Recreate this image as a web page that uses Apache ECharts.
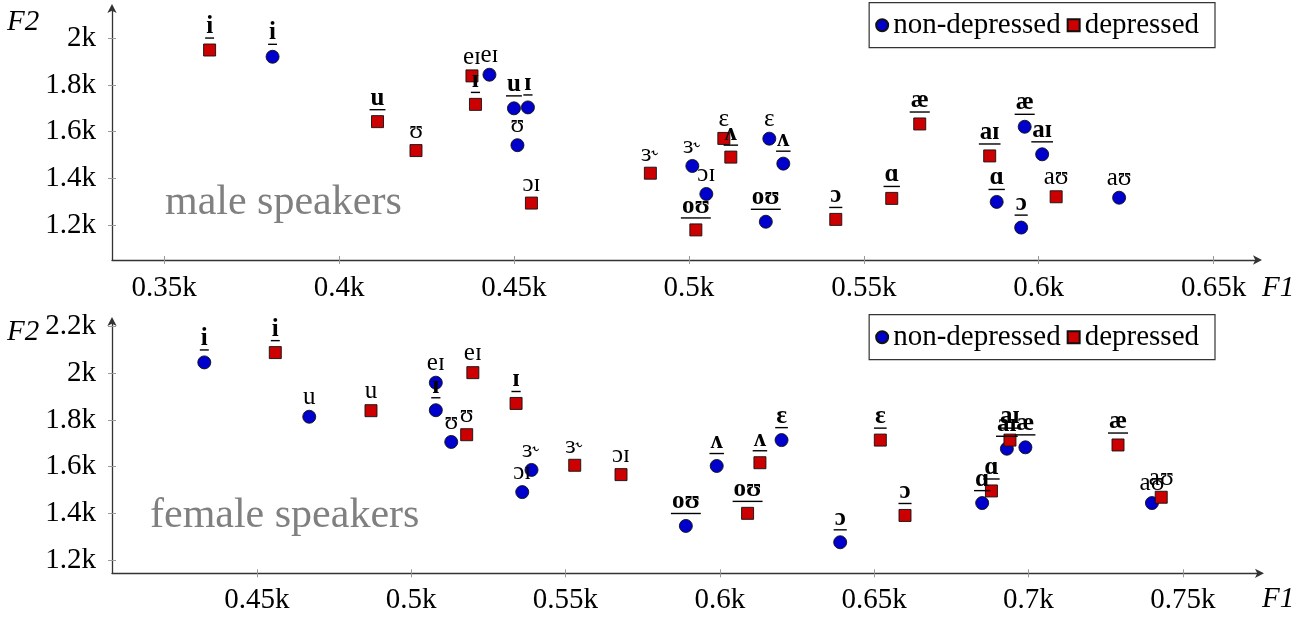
<!DOCTYPE html>
<html>
<head>
<meta charset="utf-8">
<script src="https://cdn.jsdelivr.net/npm/echarts@6/dist/echarts.min.js"></script>
<style>
html,body{margin:0;padding:0;background:#fff;}
#chart{width:1309px;height:617px;}
</style>
</head>
<body>
<div id="chart"></div>
<script>
// ---------- data ----------
const vowels = ['i','eɪ','ɪ','u','ʊ','ɔɪ','ɜ˞','ɛ','ʌ','oʊ','ɔ','ɑ','æ','aɪ','aʊ'];

// male speakers
const maleNonDepF1 = [381, 443, 454, 450, 451, 505, 501, 523, 527, 522, 595, 588, 596, 601, 623];
const maleNonDepF2 = [1921, 1844, 1704, 1700, 1542, 1333, 1453, 1570, 1463, 1214, 1189, 1299, 1621, 1503, 1317];
const maleDepF1 = [363, 438, 439, 411, 422, 455, 489, 510, 512, 502, 542, 558, 566, 586, 605];
const maleDepF2 = [1950, 1839, 1717, 1643, 1519, 1294, 1422, 1571, 1491, 1179, 1224, 1314, 1633, 1496, 1321];
const maleMarked = ['i','ɪ','u','ʌ','oʊ','ɔ','ɑ','æ','aɪ'];

// female speakers
const femaleNonDepF1 = [433, 508, 508, 467, 513, 536, 539, 620, 599, 589, 639, 685, 699, 693, 740];
const femaleNonDepF2 = [2047, 1960, 1842, 1814, 1706, 1491, 1586, 1714, 1603, 1346, 1276, 1444, 1683, 1677, 1444];
const femaleDepF1 = [456, 520, 534, 487, 518, 568, 553, 652, 613, 609, 660, 688, 729, 694, 743];
const femaleDepF2 = [2089, 2003, 1871, 1840, 1737, 1566, 1606, 1714, 1617, 1400, 1391, 1496, 1693, 1714, 1469];
const femaleMarked = ['i','ɪ','oʊ','ʌ','ɛ','ɔ','ɑ','aɪ','æ'];

// ticks
const maleXTicks = [350, 400, 450, 500, 550, 600, 650];
const maleYTicks = [1200, 1400, 1600, 1800, 2000];
const femaleXTicks = [450, 500, 550, 600, 650, 700, 750];
const femaleYTicks = [1200, 1400, 1600, 1800, 2000, 2200];

const seriesNames = ['non-depressed', 'depressed'];
const panelTitles = ['male speakers', 'female speakers'];

// ---------- styling ----------
const FONT = 'Liberation Serif';
const LABEL_SIZE = 25;
const BLUE = '#0000cc';
const RED = '#cc0000';

const ctx = document.createElement('canvas').getContext('2d');
function measure(t, bold) {
  ctx.font = (bold ? 'bold ' : '') + LABEL_SIZE + 'px "' + FONT + '"';
  return ctx.measureText(t).width;
}

function kfmt(v) { return (v / 1000) + 'k'; }

function buildData(f1, f2, marked) {
  return vowels.map((v, i) => {
    const m = marked.indexOf(v) >= 0;
    const item = { name: v, value: [f1[i], f2[i]] };
    if (m) {
      item.label = {
        formatter: '{b|' + v + '}\n{u| }',
        distance: 4,
        rich: {
          b: { fontFamily: FONT, fontSize: LABEL_SIZE, fontWeight: 'bold', color: '#000', lineHeight: 20 },
          u: { width: measure(v, true) + 2, height: 1.4, lineHeight: 3, fontSize: 1, backgroundColor: '#000' }
        }
      };
    } else {
      item.label = {
        formatter: '{n|' + v + '}',
        distance: 0,
        rich: {
          n: { fontFamily: FONT, fontSize: LABEL_SIZE, color: '#000' }
        }
      };
    }
    return item;
  });
}

function scatter(name, gi, f1, f2, marked, symbol, size, color) {
  return {
    type: 'scatter',
    name: name,
    xAxisIndex: gi * 2,
    yAxisIndex: gi * 2,
    symbol: symbol,
    symbolSize: size,
    itemStyle: { color: color, borderColor: '#111', borderWidth: 0.9, opacity: 1 },
    label: { show: true, position: 'top', color: '#000', fontFamily: FONT },
    labelLayout: { hideOverlap: false },
    emphasis: { disabled: true },
    data: buildData(f1, f2, marked)
  };
}

const axisLineStyle = { color: '#333', width: 1.3 };
const tickStyle = { color: '#999', width: 1 };

function xAxes(gi, min, max, ticks, margin) {
  return [
    {
      type: 'value', gridIndex: gi, min: min, max: max, position: 'bottom',
      splitLine: { show: false },
      axisLine: { show: true, onZero: false, lineStyle: axisLineStyle, symbol: ['none', 'arrow'], symbolSize: [7, 9], symbolOffset: [0, 4] },
      axisTick: { show: true, inside: false, length: 4, lineStyle: tickStyle, customValues: ticks },
      axisLabel: { show: true, margin: margin, fontFamily: FONT, fontSize: 29, color: '#000', customValues: ticks, formatter: kfmt }
    },
    {
      type: 'value', gridIndex: gi, min: min, max: max, position: 'bottom',
      splitLine: { show: false },
      axisLine: { show: false },
      axisTick: { show: true, inside: true, length: 4, lineStyle: tickStyle, customValues: ticks },
      axisLabel: { show: false }
    }
  ];
}
function yAxes(gi, min, max, ticks) {
  return [
    {
      type: 'value', gridIndex: gi, min: min, max: max, position: 'left',
      splitLine: { show: false },
      axisLine: { show: true, onZero: false, lineStyle: axisLineStyle, symbol: ['none', 'arrow'], symbolSize: [7, 9], symbolOffset: [0, 4] },
      axisTick: { show: true, inside: false, length: 4, lineStyle: tickStyle, customValues: ticks },
      axisLabel: { show: true, margin: 16, fontFamily: FONT, fontSize: 29, color: '#000', customValues: ticks, formatter: kfmt }
    },
    {
      type: 'value', gridIndex: gi, min: min, max: max, position: 'left',
      splitLine: { show: false },
      axisLine: { show: false },
      axisTick: { show: true, inside: true, length: 4, lineStyle: tickStyle, customValues: ticks },
      axisLabel: { show: false }
    }
  ];
}

function legend(top) {
  return {
    data: [
      { name: seriesNames[0], icon: 'circle' },
      { name: seriesNames[1], icon: 'rect' }
    ],
    right: 94, top: top,
    orient: 'horizontal',
    selectedMode: false,
    borderColor: '#333', borderWidth: 1.2, borderRadius: 0,
    padding: [8, 16, 8, 6],
    itemWidth: 12, itemHeight: 12, itemGap: 6,
    textStyle: { fontFamily: FONT, fontSize: 29, color: '#000', padding: [0, 0, 0, 0] }
  };
}

function text(str, x, y, size, color, italic) {
  return {
    type: 'text', x: x, y: y, silent: true, z: 100,
    style: { text: str, fontFamily: FONT, fontSize: size, fill: color, fontStyle: italic ? 'italic' : 'normal', verticalAlign: 'middle', align: 'left' }
  };
}

const option = {
  animation: false,
  backgroundColor: '#fff',
  textStyle: { fontFamily: FONT },
  grid: [
    { left: 112, top: 8, width: 1146, height: 252 },
    { left: 112, top: 321, width: 1148, height: 252.3 }
  ],
  xAxis: [].concat(xAxes(0, 335.1, 662.7, maleXTicks, 14), xAxes(1, 403.1, 775.0, femaleXTicks, 13)),
  yAxis: [].concat(yAxes(0, 1050, 2130, maleYTicks), yAxes(1, 1143, 2224.4, femaleYTicks)),
  legend: [legend(2.7), legend(314.7)],
  series: [
    scatter(seriesNames[0], 0, maleNonDepF1, maleNonDepF2, maleMarked, 'circle', 13, BLUE),
    scatter(seriesNames[1], 0, maleDepF1, maleDepF2, maleMarked, 'rect', 12, RED),
    scatter(seriesNames[0], 1, femaleNonDepF1, femaleNonDepF2, femaleMarked, 'circle', 13, BLUE),
    scatter(seriesNames[1], 1, femaleDepF1, femaleDepF2, femaleMarked, 'rect', 12, RED)
  ],
  graphic: [
    text(panelTitles[0], 165, 203, 42, '#808080', false),
    text(panelTitles[1], 150, 516, 42, '#808080', false),
    text('F2', 7, 22.5, 29, '#000', true),
    text('F2', 7, 332, 29, '#000', true),
    text('F1', 1262, 288, 29, '#000', true),
    text('F1', 1262, 599, 29, '#000', true)
  ]
};

const chart = echarts.init(document.getElementById('chart'), null, { renderer: 'canvas' });
chart.setOption(option);
</script>
</body>
</html>
